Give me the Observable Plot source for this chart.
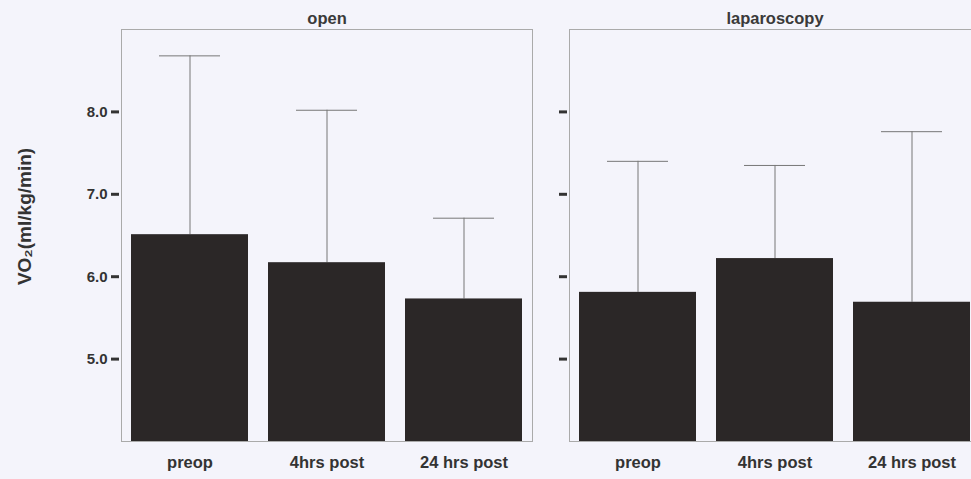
<!DOCTYPE html>
<html>
<head>
<meta charset="utf-8">
<script src="https://cdn.jsdelivr.net/npm/d3@7"></script>
<script src="https://cdn.jsdelivr.net/npm/@observablehq/plot@0.6"></script>
<style>
  html, body { margin: 0; padding: 0; background: #f4f4fb; }
  #chart { width: 971px; height: 479px; overflow: hidden; }
</style>
</head>
<body>
<div id="chart"></div>
<script>
const groups = ["open", "laparoscopy"];
const times = ["preop", "4hrs post", "24 hrs post"];
const openMean = [6.51, 6.17, 5.73];
const openUpper = [8.68, 8.02, 6.71];
const lapMean = [5.81, 6.22, 5.69];
const lapUpper = [7.40, 7.35, 7.76];
const yTicks = [5, 6, 7, 8];
const yLabel = "VO₂(ml/kg/min)";

const means = [openMean, lapMean];
const uppers = [openUpper, lapUpper];
const data = groups.flatMap((g, gi) =>
  times.map((t, i) => ({group: g, time: t, mean: means[gi][i], upper: uppers[gi][i]}))
);

const font = "'Liberation Sans', Arial, sans-serif";

const chart = Plot.plot({
  width: 971,
  height: 479,
  marginTop: 29,
  marginBottom: 38,
  marginLeft: 120,
  marginRight: -10,
  style: {background: "transparent", fontFamily: font},
  fx: {domain: groups, paddingInner: 0.082, paddingOuter: 0, label: null},
  x: {domain: times, paddingInner: 0.146, paddingOuter: 0.066, label: null},
  y: {domain: [4, 9], clamp: true, label: null},
  marks: [
    Plot.frame({stroke: "#aaa", strokeWidth: 1}),
    Plot.axisFx({anchor: "top", tickSize: 0, tickPadding: 6, label: null,
      fontSize: 16.5, fontWeight: "bold", fill: "#3a3a3a"}),
    Plot.axisX({anchor: "bottom", tickSize: 0, tickPadding: 15, label: null,
      fontSize: 16.5, fontWeight: "bold", fill: "#333"}),
    Plot.axisY({anchor: "left", facetAnchor: "left", ticks: yTicks, tickFormat: ".1f",
      tickSize: 8, tickPadding: 4, dx: -2, stroke: "#333", strokeWidth: 3, label: null,
      fontSize: 15, fontWeight: "bold", fill: "#333"}),
    Plot.axisY({anchor: "left", facetAnchor: "right", ticks: yTicks, tickFormat: () => "",
      tickSize: 8, dx: -2, stroke: "#333", strokeWidth: 3, label: null}),
    Plot.ruleX(data, {fx: "group", x: "time", y1: "mean", y2: "upper", stroke: "#777", strokeWidth: 1}),
    Plot.tickY(data, {fx: "group", x: "time", y: "upper", stroke: "#777", strokeWidth: 1, inset: 28}),
    Plot.barY(data, {fx: "group", x: "time", y: "mean", fill: "#2b2727"}),
    Plot.text([yLabel], {fx: ["open"], frameAnchor: "left", textAnchor: "middle", rotate: -90,
      dx: -97, dy: -19, fontSize: 19, fontWeight: "bold", fill: "#333", text: d => d})
  ]
});
document.getElementById("chart").appendChild(chart);
</script>
</body>
</html>
